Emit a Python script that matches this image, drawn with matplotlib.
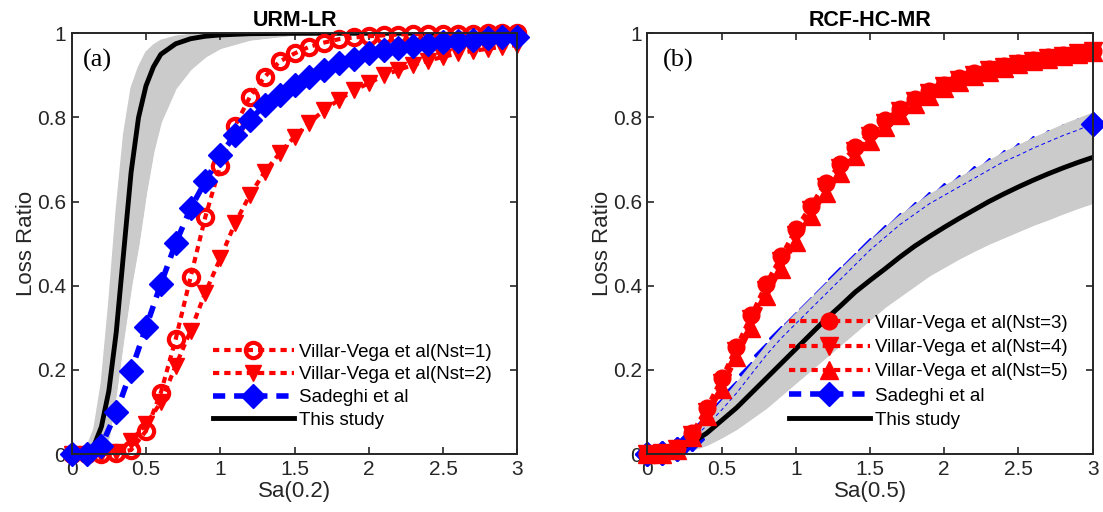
import numpy as np
import matplotlib
matplotlib.use("Agg")
import matplotlib.pyplot as plt

plt.rcParams['font.family'] = ['Liberation Sans', 'DejaVu Sans']

# intensity grid used by the marker series (both panels)
sa = [0.0, 0.1, 0.2, 0.3, 0.4, 0.5, 0.6, 0.7, 0.8, 0.9, 1.0,
      1.1, 1.2, 1.3, 1.4, 1.5, 1.6, 1.7, 1.8, 1.9, 2.0,
      2.1, 2.2, 2.3, 2.4, 2.5, 2.6, 2.7, 2.8, 2.9, 3.0]

# ---- panel (a) URM-LR ----
a_vv1 = [0, 0, 0, 0.002, 0.01, 0.055, 0.146, 0.273, 0.42, 0.564, 0.685,
         0.78, 0.849, 0.897, 0.933, 0.952, 0.968, 0.978, 0.986, 0.99, 0.993,
         0.995, 0.997, 0.998, 0.998, 0.999, 0.999, 0.999, 1.0, 1.0, 1.0]
a_vv2 = [0, 0, 0, 0.005, 0.032, 0.071, 0.123, 0.21, 0.293, 0.384, 0.465,
         0.549, 0.616, 0.671, 0.715, 0.754, 0.787, 0.818, 0.842, 0.865, 0.881,
         0.9, 0.913, 0.925, 0.935, 0.944, 0.952, 0.958, 0.963, 0.968, 0.972]
a_sadeghi = [0, 0, 0.02, 0.099, 0.198, 0.301, 0.404, 0.501, 0.584, 0.648, 0.711,
             0.758, 0.794, 0.83, 0.853, 0.877, 0.897, 0.913, 0.929, 0.94, 0.952,
             0.96, 0.965, 0.97, 0.975, 0.979, 0.982, 0.985, 0.988, 0.99, 0.99]

# finer grid for the steep curve of this study
sa_fine = [0, 0.05, 0.1, 0.15, 0.2, 0.25, 0.3, 0.35, 0.4, 0.45, 0.5, 0.55,
           0.6, 0.7, 0.8, 0.9, 1.0, 1.2, 1.5, 2.0, 2.5, 3.0]
a_study = [0, 0.001, 0.005, 0.02, 0.065, 0.15, 0.29, 0.48, 0.67, 0.8, 0.875, 0.92,
           0.95, 0.975, 0.987, 0.993, 0.996, 0.999, 1, 1, 1, 1]
a_band_hi = [0, 0.002, 0.015, 0.06, 0.17, 0.36, 0.58, 0.76, 0.87, 0.92, 0.955, 0.972,
             0.983, 0.993, 0.997, 0.999, 1, 1, 1, 1, 1, 1]
a_band_lo = [0, 0, 0, 0.003, 0.01, 0.04, 0.15, 0.28, 0.4, 0.5, 0.62, 0.72,
             0.79, 0.87, 0.915, 0.945, 0.965, 0.985, 0.997, 1, 1, 1]

# ---- panel (b) RCF-HC-MR ----
b_vv3 = [0, 0.002, 0.015, 0.05, 0.11, 0.18, 0.255, 0.33, 0.405, 0.47, 0.535,
         0.59, 0.645, 0.69, 0.73, 0.765, 0.795, 0.82, 0.845, 0.862, 0.877,
         0.893, 0.905, 0.915, 0.922, 0.93, 0.937, 0.943, 0.948, 0.953, 0.958]
b_vv4 = [0, 0.002, 0.013, 0.045, 0.1, 0.17, 0.245, 0.32, 0.39, 0.46, 0.52,
         0.58, 0.635, 0.68, 0.72, 0.757, 0.788, 0.815, 0.84, 0.858, 0.874,
         0.89, 0.902, 0.912, 0.92, 0.928, 0.935, 0.941, 0.947, 0.952, 0.957]
b_vv5 = [0, 0.001, 0.01, 0.04, 0.09, 0.155, 0.23, 0.3, 0.375, 0.44, 0.505,
         0.565, 0.62, 0.667, 0.708, 0.745, 0.778, 0.806, 0.832, 0.852, 0.869,
         0.885, 0.898, 0.909, 0.918, 0.926, 0.933, 0.94, 0.946, 0.951, 0.956]
b_sadeghi = [0, 0.002, 0.012, 0.035, 0.068, 0.105, 0.145, 0.19, 0.235, 0.275, 0.31,
             0.345, 0.38, 0.415, 0.45, 0.485, 0.515, 0.545, 0.57, 0.595, 0.615,
             0.635, 0.655, 0.675, 0.695, 0.71, 0.727, 0.742, 0.757, 0.77, 0.785]
b_study = [0, 0.002, 0.01, 0.027, 0.05, 0.08, 0.11, 0.145, 0.18, 0.215, 0.25,
           0.285, 0.32, 0.352, 0.385, 0.413, 0.44, 0.468, 0.494, 0.517, 0.539,
           0.56, 0.58, 0.6, 0.618, 0.635, 0.651, 0.666, 0.68, 0.693, 0.705]
b_band_hi = [0, 0.004, 0.02, 0.048, 0.085, 0.125, 0.168, 0.212, 0.257, 0.297, 0.333,
             0.368, 0.403, 0.438, 0.472, 0.506, 0.536, 0.566, 0.591, 0.616, 0.636,
             0.656, 0.676, 0.696, 0.716, 0.733, 0.75, 0.766, 0.782, 0.796, 0.81]
b_band_lo = [0, 0, 0.003, 0.01, 0.022, 0.04, 0.06, 0.085, 0.11, 0.14, 0.17,
             0.2, 0.23, 0.26, 0.29, 0.32, 0.35, 0.375, 0.4, 0.425, 0.445,
             0.465, 0.483, 0.5, 0.515, 0.53, 0.545, 0.558, 0.572, 0.585, 0.597]

xticks = [0, 0.5, 1, 1.5, 2, 2.5, 3]
xticklabels = ['0', '0.5', '1', '1.5', '2', '2.5', '3']
yticks = [0, 0.2, 0.4, 0.6, 0.8, 1]
yticklabels = ['0', '0.2', '0.4', '0.6', '0.8', '1']

RED = '#ff0000'
BLUE = '#0000ff'
GRAY = '#cbcbcb'
AXC = '#262626'
dot = (0, (1.5, 1.2))
dash = (0, (2.2, 1.6))

fig = plt.figure(figsize=(11.03, 5.12), dpi=100)
ax1 = fig.add_axes([0.065, 0.113, 0.404, 0.822])
ax2 = fig.add_axes([0.587, 0.113, 0.4036, 0.822])


def style_axes(ax, title, xlabel, tag, tag_x):
    ax.set_xlim(0, 3)
    ax.set_ylim(0, 1)
    ax.set_xticks(xticks)
    ax.set_xticklabels(xticklabels)
    ax.set_yticks(yticks)
    ax.set_yticklabels(yticklabels)
    ax.tick_params(direction='in', length=5, width=1.2, top=True, right=True,
                   labelsize=15, colors=AXC, pad=4)
    for s in ax.spines.values():
        s.set_linewidth(1.4)
        s.set_color(AXC)
        s.set_zorder(10)
    ax.set_title(title, fontsize=15.5, fontweight='bold', pad=5)
    ax.set_xlabel(xlabel, fontsize=16, color=AXC, labelpad=2)
    ax.set_ylabel('Loss Ratio', fontsize=16, color=AXC, labelpad=0)
    ax.text(tag_x, 0.935, tag, transform=ax.transAxes, ha='left', va='center',
            fontsize=19, family=['Liberation Serif', 'DejaVu Serif'])


# panel (a)
ax1.fill_between(sa_fine, a_band_lo, a_band_hi, color=GRAY, lw=0.8, zorder=1)
ax1.plot(sa_fine, a_band_hi, color=GRAY, lw=1, zorder=1)
ax1.plot(sa_fine, a_band_lo, color=GRAY, lw=1, zorder=1)
ax1.plot(sa_fine, a_study, color='k', lw=3.5, zorder=3)
ax1.plot(sa, a_vv1, color=RED, ls=dot, lw=3, marker='o', ms=11,
         mfc='none', mec=RED, mew=3, clip_on=False, zorder=4)
ax1.plot(sa, a_vv2, color=RED, ls=dot, lw=3, marker='v', ms=11.5,
         mfc=RED, mec=RED, clip_on=False, zorder=4)
ax1.plot(sa, a_sadeghi, color=BLUE, ls=dash, lw=4, marker='D', ms=12,
         mfc=BLUE, mec=BLUE, clip_on=False, zorder=5)
h = [
    plt.Line2D([], [], color=RED, ls=dot, lw=3, marker='o', ms=11, mfc='none', mec=RED, mew=3),
    plt.Line2D([], [], color=RED, ls=dot, lw=3, marker='v', ms=11.5, mfc=RED, mec=RED),
    plt.Line2D([], [], color=BLUE, ls=dash, lw=4, marker='D', ms=12, mfc=BLUE, mec=BLUE),
    plt.Line2D([], [], color='k', lw=3.5),
]
labels_a = ['Villar-Vega et al(Nst=1)', 'Villar-Vega et al(Nst=2)', 'Sadeghi et al', 'This study']
ax1.legend(h, labels_a, loc='lower left', bbox_to_anchor=(0.317, 0.06), frameon=False,
           fontsize=13.5, handlelength=4.3, handletextpad=0.3, numpoints=1,
           labelspacing=0.3, borderpad=0, borderaxespad=0)
style_axes(ax1, 'URM-LR', 'Sa(0.2)', '(a)', 0.025)

# panel (b)
ax2.plot(sa, b_sadeghi, color=BLUE, ls=dash, lw=3, marker='D', ms=12,
         mfc=BLUE, mec=BLUE, clip_on=False, zorder=1)
ax2.fill_between(sa, b_band_lo, b_band_hi, color=GRAY, lw=0.8, zorder=2)
ax2.plot(sa, b_band_hi, color=GRAY, lw=1, zorder=2)
ax2.plot(sa, b_band_lo, color=GRAY, lw=1, zorder=2)
ax2.plot(sa, b_sadeghi, color=BLUE, ls=(0, (4, 3)), lw=0.7, zorder=2.5)
ax2.plot(sa, b_sadeghi, color=BLUE, ls='none', marker='D', ms=12,
         mfc=BLUE, mec=BLUE, markevery=[0, 1, 2, 3, 30], clip_on=False, zorder=3)
ax2.plot(sa, b_study, color='k', lw=3.5, zorder=4)
ax2.plot(sa, b_vv3, color=RED, ls=dot, lw=3, marker='o', ms=12,
         mfc=RED, mec=RED, clip_on=False, zorder=5)
ax2.plot(sa, b_vv4, color=RED, ls=dot, lw=3, marker='v', ms=13.5,
         mfc=RED, mec=RED, clip_on=False, zorder=5)
ax2.plot(sa, b_vv5, color=RED, ls=dot, lw=3, marker='^', ms=13.5,
         mfc=RED, mec=RED, clip_on=False, zorder=5)
h = [
    plt.Line2D([], [], color=RED, ls=dot, lw=3, marker='o', ms=12, mfc=RED, mec=RED),
    plt.Line2D([], [], color=RED, ls=dot, lw=3, marker='v', ms=13.5, mfc=RED, mec=RED),
    plt.Line2D([], [], color=RED, ls=dot, lw=3, marker='^', ms=13.5, mfc=RED, mec=RED),
    plt.Line2D([], [], color=BLUE, ls=dash, lw=4, marker='D', ms=12, mfc=BLUE, mec=BLUE),
    plt.Line2D([], [], color='k', lw=3.5),
]
labels_b = ['Villar-Vega et al(Nst=3)', 'Villar-Vega et al(Nst=4)', 'Villar-Vega et al(Nst=5)',
            'Sadeghi et al', 'This study']
ax2.legend(h, labels_b, loc='lower left', bbox_to_anchor=(0.318, 0.06), frameon=False,
           fontsize=13.5, handlelength=4.3, handletextpad=0.3, numpoints=1,
           labelspacing=0.38, borderpad=0, borderaxespad=0)
style_axes(ax2, 'RCF-HC-MR', 'Sa(0.5)', '(b)', 0.035)

fig.savefig('out.png', dpi=100)
